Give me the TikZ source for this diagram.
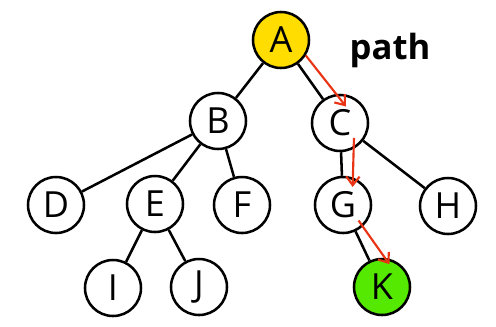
\documentclass[tikz,border=0pt]{standalone}
\usepackage{fontspec}
\setmainfont{Open Sans}
\usepackage{tikz}
\usetikzlibrary{positioning,arrows.meta,calc}
\definecolor{rootyellow}{RGB}{255,221,0}
\definecolor{goalgreen}{RGB}{85,232,0}
\definecolor{pathred}{RGB}{232,52,20}

\begin{document}
\begin{tikzpicture}[
  x=0.75pt, y=-0.75pt,
  vert/.style={draw, circle, line width=1.9pt, fill=white, minimum size=42pt,
               inner sep=0pt, font=\fontsize{27}{27}\selectfont},
  edge/.style={line width=1.9pt},
  patharr/.style={line width=1.6pt, color=pathred,
                  -{Straight Barb[length=6.5pt,width=10pt,line width=1.6pt]}},
]
\useasboundingbox (0,0) rectangle (496,326);

\node[vert, fill=rootyellow] (A) at (281,40)  {A};
\node[vert] (B) at (218,121) {B};
\node[vert] (C) at (340,123) {C};
\node[vert] (D) at (56,205)  {D};
\node[vert] (E) at (155,204) {E};
\node[vert] (F) at (242,205) {F};
\node[vert] (G) at (343,205) {G};
\node[vert] (H) at (448,206) {H};
\node[vert] (I) at (113,288) {I};
\node[vert] (J) at (199,287) {J};
\node[vert, fill=goalgreen] (K) at (382,287) {K};

\node[font=\fontsize{26}{26}\selectfont\bfseries] (lbl) at (390,50) {path};

\draw[edge] (A) -- (B);
\draw[edge] (A) -- (C);
\draw[edge] (B) -- (D);
\draw[edge] (B) -- (E);
\draw[edge] (B) -- (F);
\draw[edge] (E) -- (I);
\draw[edge] (E) -- (J);
\draw[edge] (C) -- (G);
\draw[edge] (C) -- (H);
\draw[edge] (G) -- (K);

% the path from A down to K
\draw[patharr] (A.-32) -- ($(C.70)!0.4!(C.center)$);
\draw[patharr] ($(C.-47)!0.3!(C.center)$) -- ($(G.62)!0.3!(G.center)$);
\draw[patharr] ($(G.-45)!0.25!(G.center)$) -- ($(K.72)!0.18!(K.center)$);
\end{tikzpicture}
\end{document}
